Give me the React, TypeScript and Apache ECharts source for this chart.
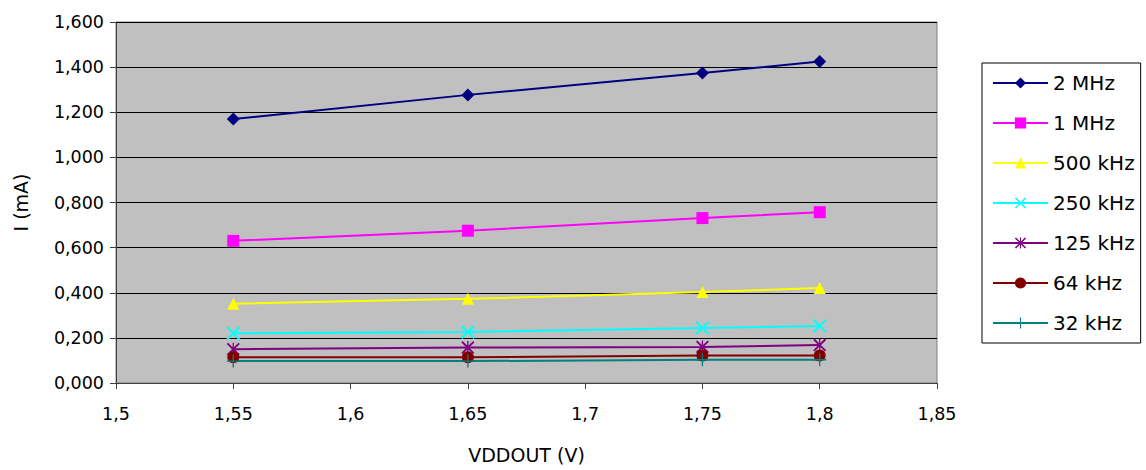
import React, { useEffect, useRef } from "react";
import * as echarts from "echarts";

const xValues = [1.55, 1.65, 1.75, 1.8];
const seriesNames = ["2 MHz", "1 MHz", "500 kHz", "250 kHz", "125 kHz", "64 kHz", "32 kHz"];
const s2MHz = [1.170, 1.277, 1.374, 1.425];
const s1MHz = [0.630, 0.675, 0.731, 0.757];
const s500k = [0.351, 0.373, 0.403, 0.421];
const s250k = [0.220, 0.226, 0.244, 0.253];
const s125k = [0.150, 0.157, 0.160, 0.168];
const s64k = [0.114, 0.114, 0.122, 0.122];
const s32k = [0.097, 0.097, 0.103, 0.103];
const seriesValues = [s2MHz, s1MHz, s500k, s250k, s125k, s64k, s32k];
const colors = ["#000080", "#FF00FF", "#FFFF00", "#00FFFF", "#800080", "#800000", "#008080"];

const X_PATH = "path://M0,2L2,0L20,18L18,20ZM20,2L2,20L0,18L18,0Z";
const STAR_PATH = "path://M0,2L2,0L20,18L18,20ZM20,2L2,20L0,18L18,0ZM9,0L11,0L11,20L9,20Z";
const PLUS_PATH = "path://M9,0L11,0L11,20L9,20ZM0,9L20,9L20,11L0,11Z";
const symbols = ["diamond", "rect", "triangle", X_PATH, STAR_PATH, "circle", PLUS_PATH];
const symbolSizes = [13, 12, 12, 14, 13, 12, 13];

const FONT = "DejaVu Sans";

export default function App() {
  const ref = useRef<HTMLDivElement>(null);
  useEffect(() => {
    if (!ref.current) return;
    const chart = echarts.init(ref.current, null, { renderer: "svg" });
    const series = seriesNames.map((name, i) => ({
      name,
      type: "line",
      data: xValues.map((x, j) => [x, seriesValues[i][j]]),
      symbol: symbols[i],
      symbolSize: symbolSizes[i],
      lineStyle: { color: colors[i], width: 2 },
      itemStyle: { color: colors[i] },
      emphasis: { disabled: true },
    }));
    chart.setOption({
      animation: false,
      backgroundColor: "#FFFFFF",
      grid: {
        left: 116,
        top: 22,
        right: 209,
        bottom: 87,
        show: true,
        backgroundColor: "#C0C0C0",
        borderColor: "#808080",
        borderWidth: 1,
      },
      legend: {
        orient: "vertical",
        left: 982,
        top: 63,
        data: seriesNames,
        itemWidth: 55,
        itemHeight: 14,
        itemGap: 20,
        padding: [10, 6, 10, 10],
        borderColor: "#000000",
        borderWidth: 1,
        backgroundColor: "#FFFFFF",
        textStyle: { fontFamily: FONT, fontSize: 20, color: "#000", lineHeight: 20 },
      },
      xAxis: {
        type: "value",
        min: 1.5,
        max: 1.85,
        interval: 0.05,
        name: "VDDOUT (V)",
        nameLocation: "middle",
        nameGap: 62,
        nameTextStyle: { fontFamily: FONT, fontSize: 19, color: "#000" },
        axisLine: { show: true, onZero: false, lineStyle: { color: "#404040", width: 1 } },
        axisTick: { show: true, inside: false, length: 6, lineStyle: { color: "#404040" } },
        axisLabel: {
          fontFamily: FONT,
          fontSize: 17.5,
          color: "#000",
          margin: 22,
          formatter: (v: number) => String(parseFloat(v.toFixed(2))).replace(".", ","),
        },
        splitLine: { show: false },
      },
      yAxis: {
        type: "value",
        min: 0,
        max: 1.6,
        interval: 0.2,
        name: "I (mA)",
        nameLocation: "middle",
        nameGap: 86,
        nameTextStyle: { fontFamily: FONT, fontSize: 19, color: "#000" },
        axisLine: { show: true, lineStyle: { color: "#404040", width: 1 } },
        axisTick: { show: true, inside: false, length: 6, lineStyle: { color: "#404040" } },
        axisLabel: {
          fontFamily: FONT,
          fontSize: 17.5,
          color: "#000",
          margin: 12,
          formatter: (v: number) => v.toFixed(3).replace(".", ","),
        },
        splitLine: { show: true, lineStyle: { color: "#000000", width: 1 } },
      },
      series,
    });
    return () => chart.dispose();
  }, []);
  return (
    <div
      ref={ref}
      style={{ position: "fixed", left: 0, top: 0, width: 1146, height: 470, background: "#fff" }}
    />
  );
}
